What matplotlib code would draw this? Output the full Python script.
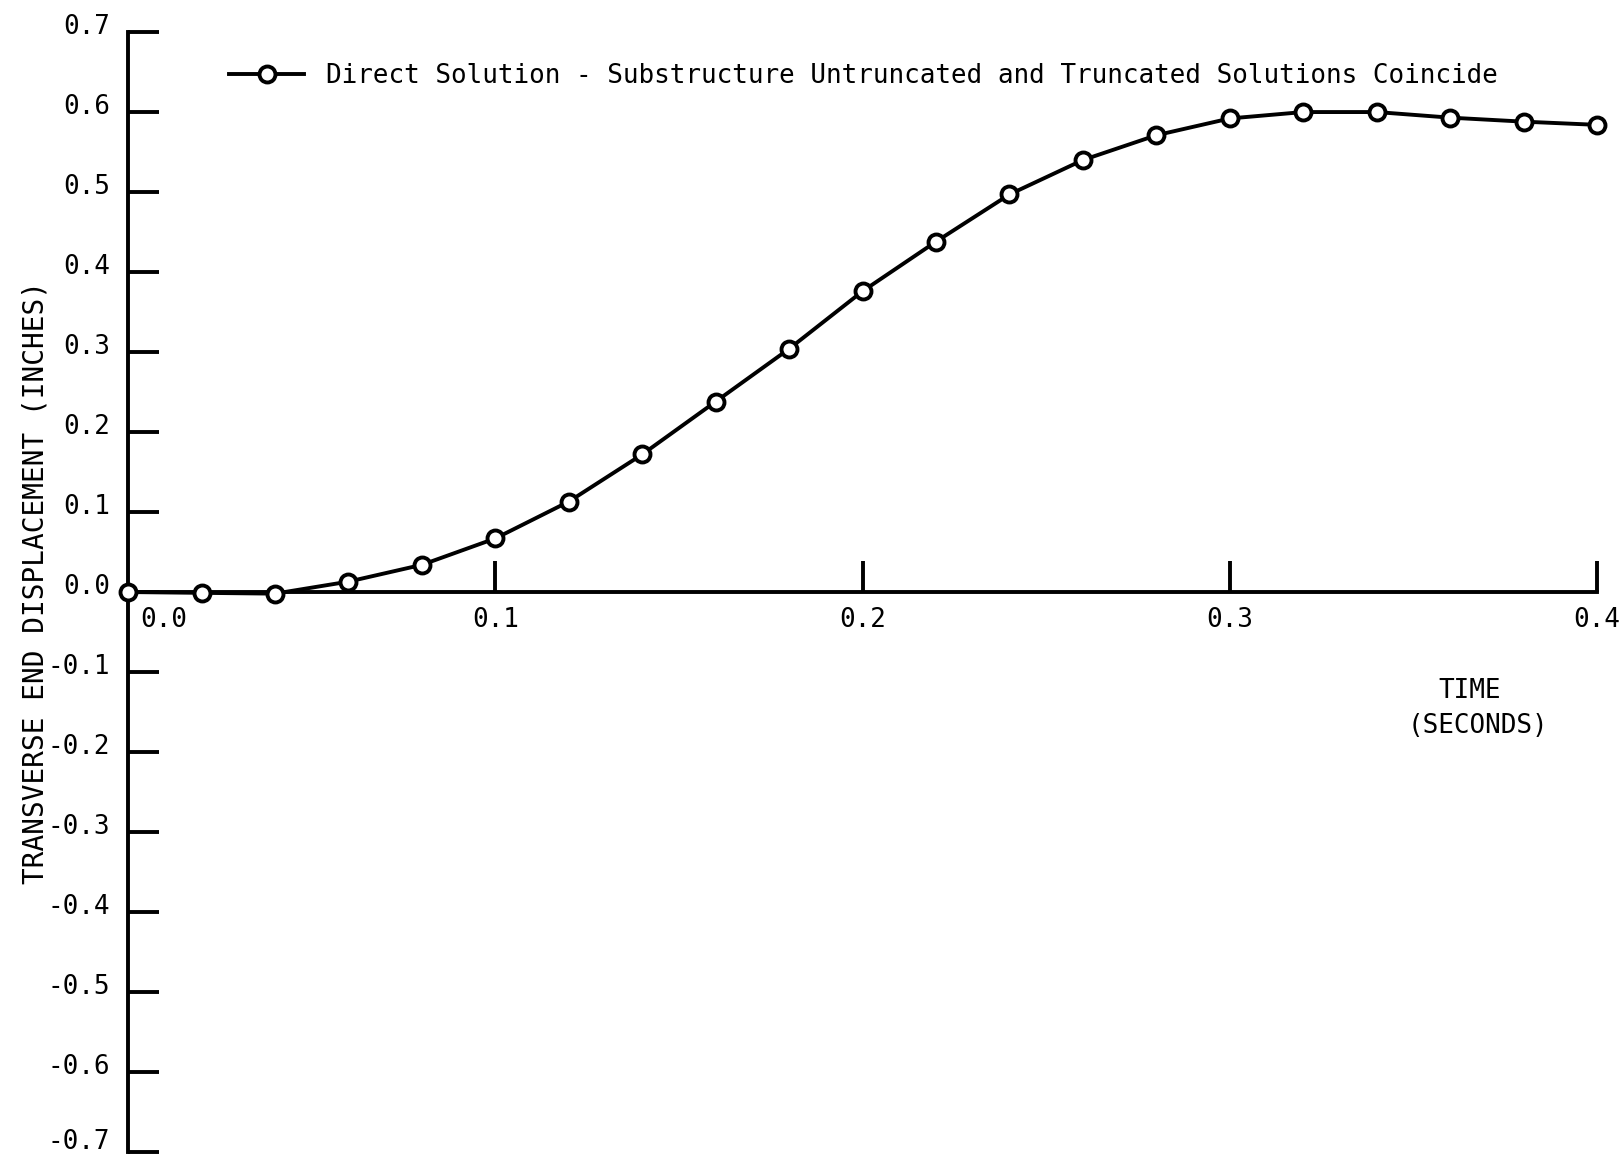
import matplotlib
matplotlib.use("Agg")
import matplotlib.pyplot as plt
import matplotlib.transforms as mtransforms

# Transverse end displacement vs. time
time_s = [0.00, 0.02, 0.04, 0.06, 0.08, 0.10, 0.12, 0.14, 0.16, 0.18, 0.20,
          0.22, 0.24, 0.26, 0.28, 0.30, 0.32, 0.34, 0.36, 0.38, 0.40]
displacement_in = [0.000, -0.001, -0.002, 0.013, 0.034, 0.067, 0.113, 0.172,
                   0.238, 0.304, 0.376, 0.438, 0.497, 0.540, 0.571, 0.592,
                   0.600, 0.600, 0.593, 0.588, 0.584]

x_ticks = [0.1, 0.2, 0.3, 0.4]
x_tick_labels = ["0.1", "0.2", "0.3", "0.4"]
y_ticks = [-0.7, -0.6, -0.5, -0.4, -0.3, -0.2, -0.1, 0.0, 0.1, 0.2, 0.3, 0.4, 0.5, 0.6, 0.7]
y_tick_labels = ["-0.7", "-0.6", "-0.5", "-0.4", "-0.3", "-0.2", "-0.1", "0.0",
                 "0.1", "0.2", "0.3", "0.4", "0.5", "0.6", "0.7"]
legend_label = "Direct Solution - Substructure Untruncated and Truncated Solutions Coincide"

plt.rcParams["font.family"] = ["DejaVu Sans Mono", "DejaVu Sans"]
FS = 18.7

fig = plt.figure(figsize=(16.23, 11.57), dpi=100)
ax = fig.add_axes([0.0789, 0.0043, 0.9051, 0.968])

ax.plot(time_s, displacement_in, color="black", lw=2.8, marker="o",
        markersize=11.5, markerfacecolor="white", markeredgecolor="black",
        markeredgewidth=2.8, clip_on=False, label=legend_label, zorder=5)

ax.set_xlim(0.0, 0.4)
ax.set_ylim(-0.7, 0.7)

for side in ("top", "right"):
    ax.spines[side].set_visible(False)
ax.spines["left"].set_position(("data", 0.0))
ax.spines["bottom"].set_position(("data", 0.0))
for side in ("left", "bottom"):
    ax.spines[side].set_linewidth(2.8)
    ax.spines[side].set_capstyle("projecting")

ax.set_xticks(x_ticks)
ax.set_xticklabels(x_tick_labels)
ax.set_yticks(y_ticks)
ax.set_yticklabels(y_tick_labels)
ax.tick_params(axis="x", direction="in", length=22, width=2.8, pad=11, labelsize=FS)
ax.tick_params(axis="y", direction="in", length=22, width=2.8, pad=13, labelsize=FS)

# Value labels on the vertical axis sit slightly above their ticks;
# the lowest one is raised a little more so it stays on the sheet
ylabels = ax.get_yticklabels()
for i, lbl in enumerate(ylabels):
    rise = 9.5 if i == 0 else 5.5
    lift = mtransforms.ScaledTranslation(0, rise / 72, fig.dpi_scale_trans)
    lbl.set_transform(lbl.get_transform() + lift)

# Origin label on the time axis sits just right of the vertical axis
offset = mtransforms.offset_copy(ax.transData, fig=fig, x=26, y=-11, units="points")
ax.text(0.0, 0.0, "0.0", transform=offset, ha="center", va="top", fontsize=FS)

fig.text(36 / 1623, 1 - 583 / 1157, "TRANSVERSE END DISPLACEMENT (INCHES)",
         rotation=90, ha="center", va="center", fontsize=20)
fig.text(1470 / 1623, 1 - 691 / 1157, "TIME", ha="center", va="center", fontsize=FS)
fig.text(1478 / 1623, 1 - 726 / 1157, "(SECONDS)", ha="center", va="center", fontsize=FS)

ax.legend(loc="center left", bbox_to_anchor=(229 / 1623, 1 - 76 / 1157),
          bbox_transform=fig.transFigure, frameon=False, fontsize=FS,
          handlelength=2.9, handletextpad=0.85, borderpad=0, borderaxespad=0)

fig.savefig("out.png", dpi=100, facecolor="white")
